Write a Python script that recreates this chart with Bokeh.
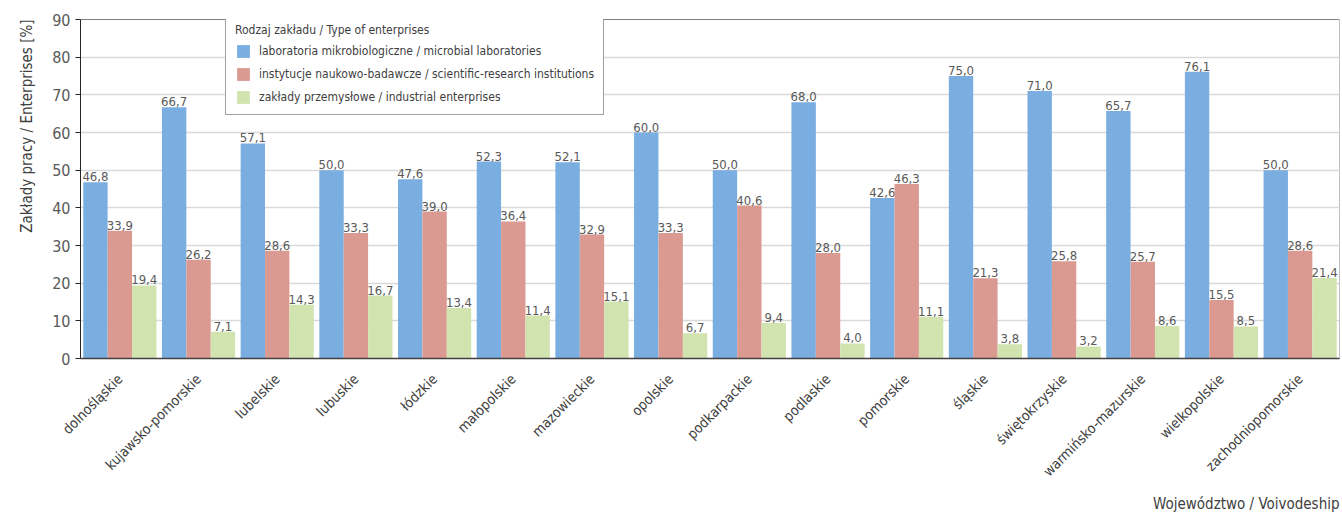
from bokeh.plotting import figure
from bokeh.models import FactorRange, Range1d, Legend, LegendItem, Span, Title, ColumnDataSource
from bokeh.transform import dodge
from bokeh.core.properties import value
from bokeh.embed import file_html
from bokeh.resources import INLINE
import math

regions = ["dolnośląskie", "kujawsko-pomorskie", "lubelskie", "lubuskie", "łódzkie",
           "małopolskie", "mazowieckie", "opolskie", "podkarpackie", "podlaskie",
           "pomorskie", "śląskie", "świętokrzyskie", "warmińsko-mazurskie",
           "wielkopolskie", "zachodniopomorskie"]
microbial = [46.8, 66.7, 57.1, 50.0, 47.6, 52.3, 52.1, 60.0, 50.0, 68.0, 42.6, 75.0, 71.0, 65.7, 76.1, 50.0]
research = [33.9, 26.2, 28.6, 33.3, 39.0, 36.4, 32.9, 33.3, 40.6, 28.0, 46.3, 21.3, 25.8, 25.7, 15.5, 28.6]
industrial = [19.4, 7.1, 14.3, 16.7, 13.4, 11.4, 15.1, 6.7, 9.4, 4.0, 11.1, 3.8, 3.2, 8.6, 8.5, 21.4]
series_names = ["laboratoria mikrobiologiczne / microbial laboratories",
                "instytucje naukowo-badawcze / scientific-research institutions",
                "zakłady przemysłowe / industrial enterprises"]
yticks = [0, 10, 20, 30, 40, 50, 60, 70, 80, 90]

FONT = "'DejaVu Sans Condensed', 'Liberation Sans Narrow', Roboto, sans-serif"
colors = ["#7AADE0", "#DB9A91", "#D1E4B0"]
offsets = [-0.31, 0.0, 0.31]
bw = 0.31

def fmt(v):
    return f"{v:.1f}".replace(".", ",")

data = dict(region=regions, s0=microbial, s1=research, s2=industrial,
            l0=[fmt(v) for v in microbial], l1=[fmt(v) for v in research], l2=[fmt(v) for v in industrial])
src = ColumnDataSource(data)

p = figure(x_range=FactorRange(factors=regions), y_range=Range1d(0, 90),
           width=1342, height=517, output_backend="svg", toolbar_location=None,
           min_border_left=80, min_border_right=3, min_border_top=19, min_border_bottom=159)

renderers = []
for i in range(3):
    r = p.vbar(x=dodge("region", offsets[i], range=p.x_range), top=f"s{i}", width=bw,
               source=src, fill_color=colors[i], line_color=None)
    renderers.append(r)
    p.text(x=dodge("region", offsets[i], range=p.x_range), y=f"s{i}", text=f"l{i}", source=src,
           text_align="center", text_baseline="bottom", y_offset=-1,
           text_font=value(FONT), text_font_size="13px", text_color="#595959")

legend = Legend(items=[LegendItem(label=series_names[i], renderers=[renderers[i]]) for i in range(3)],
                location=(145, 243), title="Rodzaj zakładu / Type of enterprises",
                title_text_font=FONT, title_text_font_size="12px", title_text_color="#404040",
                title_text_font_style="normal", title_standoff=6,
                label_text_font=FONT, label_text_font_size="12px", label_text_color="#404040",
                glyph_width=16, glyph_height=16, label_standoff=8, spacing=7, padding=9, margin=0,
                border_line_color="#404040", border_line_width=1, background_fill_alpha=1)
p.add_layout(legend, "center")

p.outline_line_color = "#bfbfbf"
p.add_layout(Span(location=90, dimension="width", line_color="#404040", line_width=1))

p.xgrid.grid_line_color = None
p.ygrid.grid_line_color = "#d9d9d9"
p.ygrid.grid_line_width = 1.5

p.yaxis.ticker = yticks
p.yaxis.major_label_text_font = FONT
p.yaxis.major_label_text_font_size = "16px"
p.yaxis.major_label_text_color = "#595959"
p.yaxis.major_tick_out = 5
p.yaxis.major_tick_in = 0
p.yaxis.minor_tick_out = 0
p.yaxis.minor_tick_in = 0
p.yaxis.axis_line_color = "#262626"
p.yaxis.major_tick_line_color = "#262626"

p.add_layout(Title(text="Zakłady pracy / Enterprises [%]", align="right", text_font=FONT,
                   text_font_size="15px", text_font_style="normal", text_color="#404040",
                   standoff=28), "left")

p.xaxis.major_label_orientation = math.pi / 4
p.xaxis.major_label_text_font = FONT
p.xaxis.major_label_text_font_size = "14px"
p.xaxis.major_label_text_color = "#404040"
p.xaxis.major_tick_line_color = None
p.xaxis.axis_line_color = "#404040"
p.xaxis.axis_line_width = 1.5
p.xaxis.major_label_standoff = 12

p.add_layout(Title(text="Województwo / Voivodeship", align="right", text_font=FONT,
                   text_font_size="15px", text_font_style="normal", text_color="#404040",
                   standoff=10), "below")

open("out.html", "w").write(file_html(p, INLINE))
